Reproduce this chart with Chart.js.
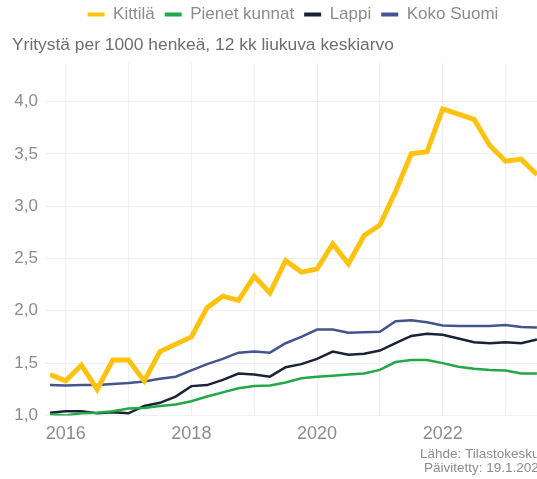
<!DOCTYPE html>
<html lang="fi">
<head>
<meta charset="utf-8">
<title>Yritystä per 1000 henkeä</title>
<script src="https://cdn.jsdelivr.net/npm/chart.js@4/dist/chart.umd.min.js"></script>
<style>
  html, body { margin: 0; padding: 0; background: #fff; }
  #wrap { width: 537px; height: 479px; overflow: hidden; }
  #kaavio { display: block; }
</style>
</head>
<body>
<div id="wrap"><canvas id="kaavio" width="574" height="479"></canvas></div>
<script>
// Vuosineljännekset desimaalivuosina (Q4/2015 ... Q3/2023)
const ajankohdat = [
  2015.75, 2016.0, 2016.25, 2016.5, 2016.75, 2017.0, 2017.25, 2017.5,
  2017.75, 2018.0, 2018.25, 2018.5, 2018.75, 2019.0, 2019.25, 2019.5,
  2019.75, 2020.0, 2020.25, 2020.5, 2020.75, 2021.0, 2021.25, 2021.5,
  2021.75, 2022.0, 2022.25, 2022.5, 2022.75, 2023.0, 2023.25, 2023.5
]

const kittila = [
  1.39, 1.33, 1.48, 1.25, 1.53, 1.53, 1.33, 1.61,
  1.68, 1.75, 2.03, 2.14, 2.10, 2.33, 2.17, 2.48,
  2.37, 2.40, 2.64, 2.45, 2.72, 2.82, 3.14, 3.50,
  3.52, 3.93, 3.88, 3.83, 3.58, 3.43, 3.45, 3.30
]

const pienetKunnat = [
  1.01, 1.00, 1.02, 1.025, 1.04, 1.065, 1.07, 1.09,
  1.105, 1.135, 1.18, 1.22, 1.26, 1.28, 1.285, 1.315,
  1.355, 1.37, 1.38, 1.39, 1.40, 1.435, 1.51, 1.53,
  1.53, 1.50, 1.465, 1.445, 1.435, 1.43, 1.40, 1.40
]

const lappi = [
  1.025, 1.04, 1.04, 1.02, 1.03, 1.02, 1.09, 1.12,
  1.18, 1.28, 1.29, 1.34, 1.40, 1.39, 1.37, 1.46,
  1.49, 1.54, 1.61, 1.58, 1.59, 1.62, 1.69, 1.76,
  1.78, 1.77, 1.735, 1.70, 1.69, 1.70, 1.69, 1.725
]

const kokoSuomi = [
  1.29, 1.285, 1.29, 1.29, 1.30, 1.31, 1.325, 1.35,
  1.37, 1.43, 1.49, 1.54, 1.60, 1.61, 1.60, 1.69,
  1.75, 1.82, 1.82, 1.79, 1.795, 1.80, 1.90, 1.91,
  1.89, 1.86, 1.855, 1.855, 1.855, 1.865, 1.845, 1.84
]

const yTicks = [1.0, 1.5, 2.0, 2.5, 3.0, 3.5, 4.0]
const xLabelYears = [2016, 2018, 2020, 2022]

const fontti = "'Liberation Sans', Arial, sans-serif"
const harmaa = "#8c8c8c"

// Yhdistetään x- ja y-arvot pisteiksi
const pisteet = (arvot) => arvot.map((v, i) => ({ x: ajankohdat[i], y: v }))

const sarja = (nimi, arvot, vari, paksuus) => ({
  label: nimi,
  data: pisteet(arvot),
  borderColor: vari,
  backgroundColor: vari,
  borderWidth: paksuus,
  pointRadius: 0,
  tension: 0,
  borderJoinStyle: "miter",
})

// Lähdeteksti oikeaan alakulmaan
const lahdePlugin = {
  id: "lahde",
  afterDraw(chart) {
    const ctx = chart.ctx
    ctx.save()
    ctx.font = "13.5px " + fontti
    ctx.fillStyle = harmaa
    ctx.textAlign = "right"
    ctx.textBaseline = "middle"
    const rivi1 = "Lähde: Tilastokeskus"
    const rivi2 = "Päivitetty: 19.1.2024"
    const oikea = 420 + ctx.measureText(rivi1).width
    ctx.fillText(rivi1, oikea, 454)
    ctx.fillText(rivi2, oikea, 468)
    ctx.restore()
  },
}

new Chart(document.getElementById("kaavio"), {
  type: "line",
  data: {
    datasets: [
      sarja("Kittilä", kittila, "#ffc20e", 5),
      sarja("Pienet kunnat", pienetKunnat, "#22a846", 2.5),
      sarja("Lappi", lappi, "#1b2238", 2.5),
      sarja("Koko Suomi", kokoSuomi, "#44548f", 2.5),
    ],
  },
  options: {
    responsive: false,
    animation: false,
    layout: { padding: { left: 12, right: 0, top: -4, bottom: 26 } },
    plugins: {
      legend: {
        position: "top",
        align: "center",
        weight: 3000,
        labels: {
          font: { family: fontti, size: 17 },
          color: harmaa,
          boxWidth: 17,
          boxHeight: 4,
          padding: 10,
          generateLabels(chart) {
            const items = Chart.defaults.plugins.legend.labels.generateLabels(chart)
            items.forEach((it) => { it.lineWidth = 0 })
            return items
          },
        },
      },
      title: {
        display: true,
        text: "Yritystä per 1000 henkeä, 12 kk liukuva keskiarvo",
        align: "start",
        color: "#6e6e6e",
        font: { family: fontti, size: 17.4, weight: "normal" },
        padding: { top: 2, bottom: 7 },
      },
      tooltip: { enabled: false },
    },
    scales: {
      x: {
        type: "linear",
        min: 2015.75,
        max: 2024.09,
        grid: { color: "#efefef", drawTicks: false },
        border: { display: false },
        afterFit: (axis) => {
          axis.paddingLeft = 0
          axis.paddingRight = 0
        },
        ticks: {
          stepSize: 1,
          includeBounds: false,
          autoSkip: false,
          maxRotation: 0,
          padding: 8,
          color: harmaa,
          font: { family: fontti, size: 18 },
          callback: (v) => (xLabelYears.includes(v) ? String(v) : ""),
        },
      },
      y: {
        min: 1.0,
        max: 4.37,
        grid: { color: "#efefef", tickLength: 5 },
        border: { display: false },
        afterFit: (axis) => {
          axis.width = 38
        },
        afterBuildTicks: (axis) => {
          axis.ticks = yTicks.map((v) => ({ value: v }))
        },
        ticks: {
          padding: 7,
          color: harmaa,
          font: { family: fontti, size: 17 },
          callback: (v) => v.toFixed(1).replace(".", ","),
        },
      },
    },
  },
  plugins: [lahdePlugin],
})
</script>
</body>
</html>
